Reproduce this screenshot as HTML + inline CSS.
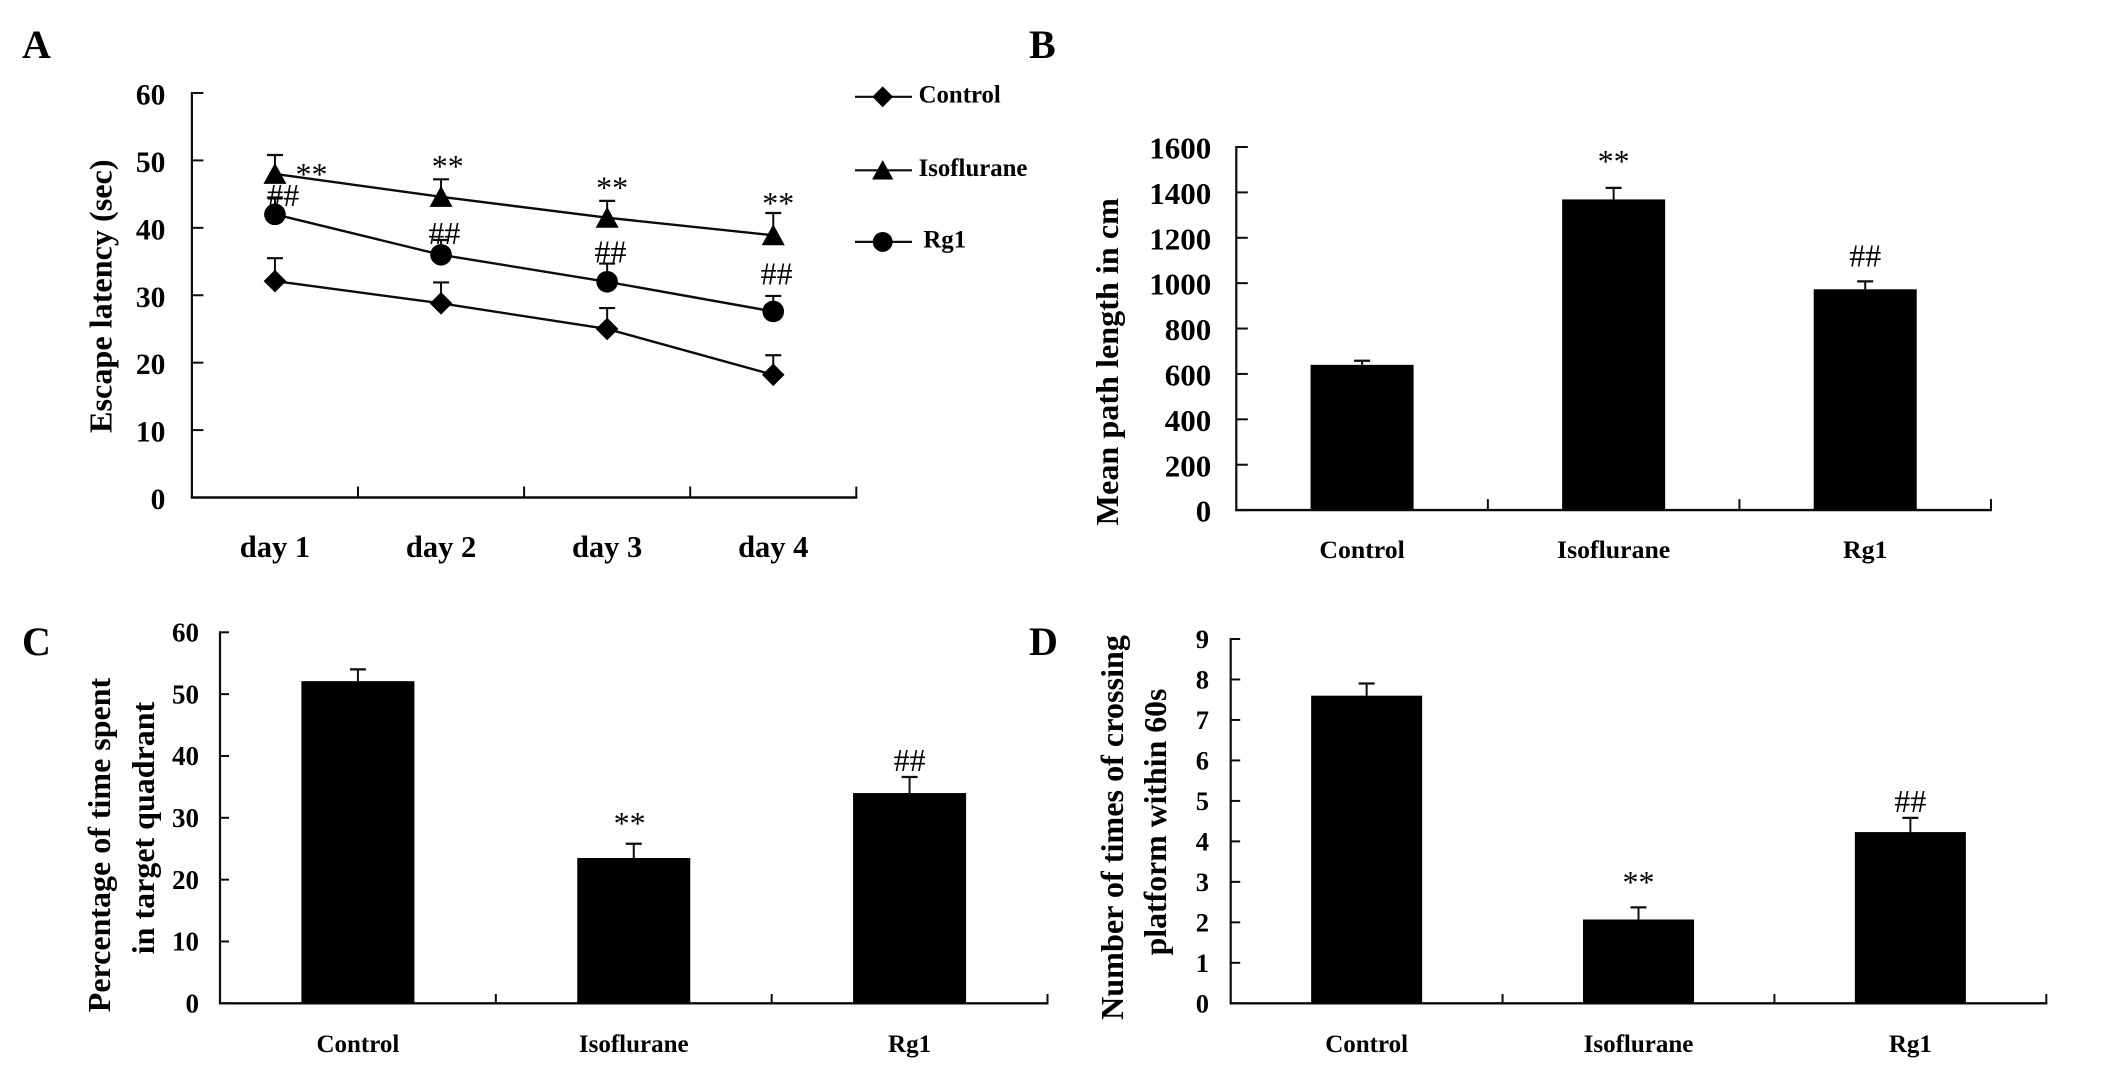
<!DOCTYPE html>
<html lang="en">
<head>
<meta charset="utf-8">
<title>Escape latency and probe trial results</title>
<style>
html,body{margin:0;padding:0;background:#fff;width:2126px;height:1071px;overflow:hidden}
svg{display:block;font-family:"Liberation Serif","Times New Roman",serif;fill:#000}
text{font-weight:bold}
text.sig{font-weight:normal}
</style>
</head>
<body>
<svg id="figure" xmlns="http://www.w3.org/2000/svg" width="2126" height="1071" viewBox="0 0 2126 1071">
  <rect x="0" y="0" width="2126" height="1071" fill="#fff"/>
  <text x="22" y="58" font-size="40">A</text>
  <text x="1029" y="58" font-size="40">B</text>
  <text x="22" y="655" font-size="40">C</text>
  <text x="1029" y="655" font-size="40">D</text>
  <text transform="translate(111.5,296.2) rotate(-90)" text-anchor="middle" font-size="32.2">Escape latency (sec)</text>
  <text transform="translate(1118,361.7) rotate(-90)" text-anchor="middle" font-size="32.2">Mean path length in cm</text>
  <text transform="translate(110,845) rotate(-90)" text-anchor="middle" font-size="32">Percentage of time spent</text>
  <text transform="translate(154,828) rotate(-90)" text-anchor="middle" font-size="32">in target quadrant</text>
  <text transform="translate(1123,827.5) rotate(-90)" text-anchor="middle" font-size="32.2">Number of times of crossing</text>
  <text transform="translate(1166,822) rotate(-90)" text-anchor="middle" font-size="31.8">platform within 60s</text>
</svg>
<script>
// Panel A data
const dayLabels = ['day 1', 'day 2', 'day 3', 'day 4'];
const latencyTicks = [0, 10, 20, 30, 40, 50, 60];
const controlLatency = [32.1, 28.8, 25.0, 18.2];
const controlLatencyErrTop = [35.5, 31.9, 28.1, 21.1];
const isoLatency = [48.0, 44.6, 41.5, 38.9];
const isoLatencyErrTop = [50.8, 47.2, 44.0, 42.2];
const rg1Latency = [42.0, 36.0, 32.0, 27.6];
const rg1LatencyErrTop = [44.5, 38.2, 34.7, 29.9];
const latencyStarDay = [1.22, 2.04, 3.03, 4.03];
const latencyStarLevel = [48.6, 49.8, 46.6, 44.3];
const latencyHashDay = [1.05, 2.02, 3.02, 4.02];
const latencyHashLevel = [44.9, 39.2, 36.5, 33.2];

// Panel B data
const groupLabels = ['Control', 'Isoflurane', 'Rg1'];
const pathTicks = [0, 200, 400, 600, 800, 1000, 1200, 1400, 1600];
const pathValues = [640, 1369, 973];
const pathErrTop = [658, 1420, 1008];
const pathMarks = ['', '**', '##'];
const pathMarkLevels = [0, 1556, 1121];
const pathMarkCats = [0, 1, 2];

// Panel C data
const quadrantTicks = [0, 10, 20, 30, 40, 50, 60];
const quadrantValues = [52.1, 23.5, 34.0];
const quadrantErrTop = [54.0, 25.8, 36.6];
const quadrantMarks = ['', '**', '##'];
const quadrantMarkLevels = [0, 29.8, 39.35];
const quadrantMarkCats = [0, 0.985, 2];

// Panel D data
const crossingTicks = [0, 1, 2, 3, 4, 5, 6, 7, 8, 9];
const crossingValues = [7.6, 2.07, 4.23];
const crossingErrTop = [7.9, 2.37, 4.58];
const crossingMarks = ['', '**', '##'];
const crossingMarkLevels = [0, 3.1, 5.0];
const crossingMarkCats = [0, 1, 2];

// Legend
const legendLabels = ['Control', 'Isoflurane', 'Rg1'];
const legendShapes = ['diamond', 'triangle', 'circle'];

const SVG_NS = 'http://www.w3.org/2000/svg';
const figure = document.getElementById('figure');
const INK = '#0c0c0c';

function mk(parent, tag, attrs, name) {
  const el = document.createElementNS(SVG_NS, tag);
  for (const k in attrs) el.setAttribute(k, attrs[k]);
  
  
  parent.appendChild(el);
  return el;
}
function line(parent, x1, y1, x2, y2, w, name) {
  return mk(parent, 'line', {x1, y1, x2, y2, stroke: INK, 'stroke-width': w}, name);
}
function label(parent, x, y, str, size, anchor, name, cls) {
  const attrs = {x, y, 'font-size': size, 'text-anchor': anchor};
  if (cls) attrs['class'] = cls;
  const t = mk(parent, 'text', attrs, name);
  t.textContent = str;
  return t;
}
function makeAxes(cfg, group) {
  const yOf = v => cfg.y0 - (v - cfg.yMin) * (cfg.y0 - cfg.yTop) / (cfg.yMax - cfg.yMin);
  const step = (cfg.x1 - cfg.x0) / cfg.cats.length;
  const xOf = i => cfg.x0 + step * (i + 0.5);
  line(group, cfg.x0, cfg.yTop - 1, cfg.x0, cfg.y0 + 1, 2.2, 'y-axis-line');
  line(group, cfg.x0 - 1, cfg.y0, cfg.x1 + 1, cfg.y0, 2.4, 'x-axis-line');
  cfg.ticks.forEach(t => {
    line(group, cfg.x0, yOf(t), cfg.x0 + cfg.tickLen, yOf(t), 2, 'y-tick');
    label(group, cfg.x0 - cfg.labelGap, yOf(t) + cfg.tickSize * 0.34 + cfg.tickShift, String(t), cfg.tickSize, 'end', 'y-tick-label');
  });
  cfg.cats.forEach((c, i) => {
    line(group, cfg.x0 + step * (i + 1), cfg.y0, cfg.x0 + step * (i + 1), cfg.y0 - cfg.xTickLen, 2, 'x-tick');
    label(group, xOf(i), cfg.catBaseline, c, cfg.catSize, 'middle', 'x-category-label');
  });
  return {xOf, yOf, step};
}
function errorBar(group, x, yTopPx, yBasePx, name) {
  line(group, x, yBasePx, x, yTopPx, 2, name + '-stem');
  line(group, x - 8, yTopPx, x + 8, yTopPx, 2.2, name + '-cap');
}
function drawBars(cfg, values, errTop, marks, markLevels, markCats, groupName) {
  const g = mk(figure, 'g', {}, groupName);
  const ax = makeAxes(cfg, g);
  values.forEach((v, i) => {
    const x = ax.xOf(i);
    errorBar(g, x, ax.yOf(errTop[i]), ax.yOf(v), 'error-bar-' + i);
    mk(g, 'rect', {x: x - cfg.barW / 2, y: ax.yOf(v), width: cfg.barW, height: cfg.y0 - ax.yOf(v), fill: '#000'}, 'bar-' + groupLabels[i].toLowerCase());
    if (marks[i]) {
      const shift = marks[i] === '**' ? 15 : 11;
      label(g, ax.xOf(markCats[i]), ax.yOf(markLevels[i]) + shift, marks[i], 32, 'middle', 'significance-mark', 'sig');
    }
  });
}
function marker(parent, shape, x, y, k, name) {
  if (shape === 'diamond') {
    return mk(parent, 'polygon', {points: [[x, y - 11.3 * k], [x + 11.3 * k, y], [x, y + 11.3 * k], [x - 11.3 * k, y]].join(' '), fill: '#000'}, name);
  }
  if (shape === 'triangle') {
    return mk(parent, 'polygon', {points: [[x, y - 11 * k], [x + 11.5 * k, y + 10 * k], [x - 11.5 * k, y + 10 * k]].join(' '), fill: '#000'}, name);
  }
  return mk(parent, 'circle', {cx: x, cy: y, r: 10.8 * k, fill: '#000'}, name);
}

// Panel A: line chart
const panelA = mk(figure, 'g', {}, 'panel-a-escape-latency');
const axA = makeAxes({
  x0: 191.9, x1: 856.3, y0: 497.5, yTop: 93, yMin: 0, yMax: 60, ticks: latencyTicks, cats: dayLabels,
  tickLen: 11.5, xTickLen: 11, labelGap: 26.5, tickSize: 29.5, tickShift: 1.5, catBaseline: 557, catSize: 30.5
}, panelA);
const xA = i => axA.xOf(i);
const seriesA = [
  {name: 'control', shape: 'diamond', vals: controlLatency, err: controlLatencyErrTop},
  {name: 'isoflurane', shape: 'triangle', vals: isoLatency, err: isoLatencyErrTop},
  {name: 'rg1', shape: 'circle', vals: rg1Latency, err: rg1LatencyErrTop}
];
seriesA.forEach(s => {
  const sg = mk(panelA, 'g', {}, 'series-' + s.name);
  s.vals.forEach((v, i) => errorBar(sg, xA(i), axA.yOf(s.err[i]), axA.yOf(v), 'error-bar-' + s.name));
  mk(sg, 'polyline', {points: s.vals.map((v, i) => xA(i) + ',' + axA.yOf(v)).join(' '), fill: 'none', stroke: INK, 'stroke-width': 2.4}, 'line-' + s.name);
  s.vals.forEach((v, i) => marker(sg, s.shape, xA(i), axA.yOf(v), 1, 'marker-' + s.name));
});
latencyStarLevel.forEach((lvl, i) => {
  label(panelA, xA(latencyStarDay[i] - 1), axA.yOf(lvl) + 15, '**', 32, 'middle', 'significance-stars', 'sig');
});
latencyHashLevel.forEach((lvl, i) => {
  label(panelA, xA(latencyHashDay[i] - 1), axA.yOf(lvl) + 11, '##', 32, 'middle', 'significance-hashes', 'sig');
});

// Legend
const legend = mk(figure, 'g', {}, 'legend');
const legendRowY = [96.8, 170.3, 241.9];
const legendTextX = [918.6, 918.6, 923.4];
legendLabels.forEach((lab, i) => {
  const y = legendRowY[i];
  line(legend, 855, y, 912, y, 2.2, 'legend-line-' + lab.toLowerCase());
  marker(legend, legendShapes[i], 882.7, y, 0.92, 'legend-marker-' + lab.toLowerCase());
  label(legend, legendTextX[i], y + 5.8, lab, 24.8, 'start', 'legend-entry-' + lab.toLowerCase());
});

// Panels B, C, D: bar charts
drawBars({
  x0: 1236.3, x1: 1991, y0: 510.1, yTop: 147, yMin: 0, yMax: 1600, ticks: pathTicks, cats: groupLabels,
  tickLen: 11.5, xTickLen: 11, labelGap: 25, tickSize: 31, tickShift: 1, catBaseline: 558, catSize: 25.8, barW: 103
}, pathValues, pathErrTop, pathMarks, pathMarkLevels, pathMarkCats, 'panel-b-path-length');

drawBars({
  x0: 220, x1: 1047.5, y0: 1003.3, yTop: 632.3, yMin: 0, yMax: 60, ticks: quadrantTicks, cats: groupLabels,
  tickLen: 9, xTickLen: 9.3, labelGap: 21, tickSize: 27, tickShift: 0, catBaseline: 1052, catSize: 25, barW: 113
}, quadrantValues, quadrantErrTop, quadrantMarks, quadrantMarkLevels, quadrantMarkCats, 'panel-c-target-quadrant');

drawBars({
  x0: 1230.7, x1: 2046.3, y0: 1003.3, yTop: 639, yMin: 0, yMax: 9, ticks: crossingTicks, cats: groupLabels,
  tickLen: 9.5, xTickLen: 9.3, labelGap: 21.7, tickSize: 26.5, tickShift: 0, catBaseline: 1052, catSize: 25, barW: 111
}, crossingValues, crossingErrTop, crossingMarks, crossingMarkLevels, crossingMarkCats, 'panel-d-platform-crossings');
</script>
</body>
</html>
